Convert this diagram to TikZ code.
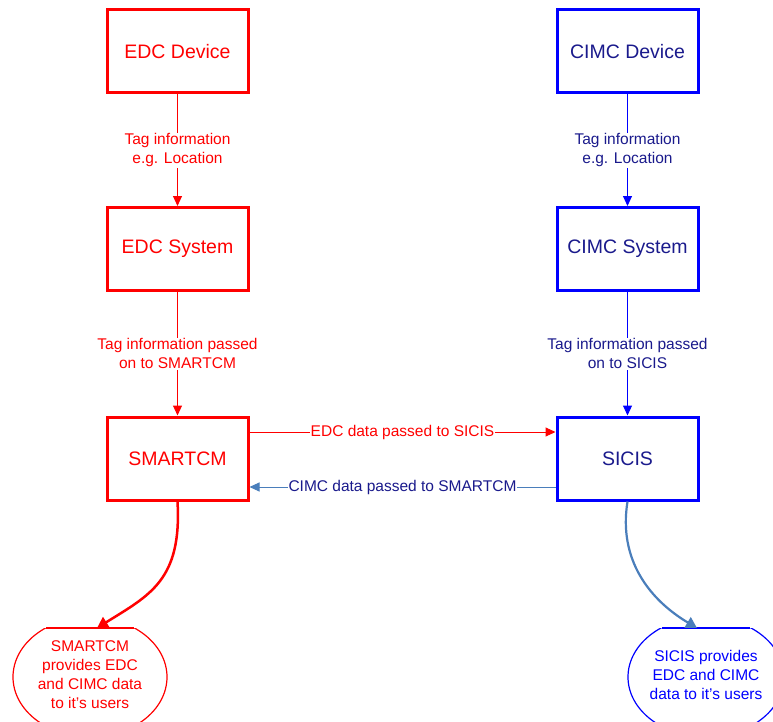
\documentclass[tikz,border=0pt]{standalone}
\usepackage{fontspec}
\setmainfont{Liberation Sans}
\usetikzlibrary{arrows.meta}
\definecolor{edcred}{HTML}{FF0000}
\definecolor{cimcblue}{HTML}{0000FF}
\definecolor{cimcnavy}{HTML}{1A1A8C}
\definecolor{steel}{HTML}{4A7EBB}
\tikzset{
  edcbox/.style={draw=edcred,line width=3pt,minimum width=141pt,minimum height=83pt,
    text=edcred,font=\fontsize{19.5}{23}\selectfont},
  cimcbox/.style={draw=cimcblue,line width=3pt,minimum width=141pt,minimum height=83pt,
    text=cimcnavy,font=\fontsize{19.5}{23}\selectfont},
  tag/.style={fill=white,align=center,inner sep=1pt,font=\fontsize{15.5}{19}\selectfont},
  flow/.style={line width=1pt,-{Triangle[length=10pt,width=9pt]}},
  bubbletext/.style={align=center,font=\fontsize{15.5}{19}\selectfont}
}
\begin{document}
\begin{tikzpicture}[x=1pt,y=-1pt]
  \useasboundingbox (0,0) rectangle (773,722);
  % left column
  \node[edcbox] (edcdev) at (177.5,51.5) {EDC Device};
  \node[edcbox] (edcsys) at (177.5,249) {EDC System};
  \node[edcbox] (smartcm) at (177.5,458.5) {SMARTCM};
  % right column
  \node[cimcbox] (cimcdev) at (627.5,51.5) {CIMC Device};
  \node[cimcbox] (cimcsys) at (627.5,249) {CIMC System};
  \node[cimcbox] (sicis) at (627.5,458.5) {SICIS};

  \draw[flow,edcred] (edcdev) -- node[tag,text=edcred] {Tag information\\e.g. Location} (edcsys);
  \draw[flow,edcred] (edcsys) -- node[tag,text=edcred] {Tag information passed\\on to SMARTCM} (smartcm);
  \draw[flow,cimcblue] (cimcdev) -- node[tag,text=cimcnavy] {Tag information\\e.g. Location} (cimcsys);
  \draw[flow,cimcblue] (cimcsys) -- node[tag,text=cimcnavy] {Tag information passed\\on to SICIS} (sicis);

  % exchange between the two systems
  \draw[flow,edcred] (smartcm.east |- 0,432) -- node[tag,text=edcred] {EDC data passed to SICIS} (sicis.west |- 0,432);
  \draw[flow,steel] (sicis.west |- 0,487) -- node[tag,text=cimcnavy] {CIMC data passed to SMARTCM} (smartcm.east |- 0,487);

  % user bubbles
  \begin{scope}
    \clip (0,628) rectangle (773,722);
    \draw[edcred,line width=1.2pt] (90,677) ellipse [x radius=77, y radius=60];
    \draw[cimcblue,line width=1.2pt] (706,677) ellipse [x radius=78, y radius=60];
  \end{scope}
  \draw[edcred,line width=1.2pt] (46,628) -- (134,628);
  \draw[cimcblue,line width=1.2pt] (662,628) -- (750,628);
  \node[bubbletext,text=edcred] (smartusers) at (90,675) {SMARTCM\\provides EDC\\and CIMC data\\to it’s users};
  \node[bubbletext,text=cimcblue] (sicisusers) at (706,675) {SICIS provides\\EDC and CIMC\\data to it’s users};
  \coordinate (smarttop) at (97,628);
  \coordinate (sicistop) at (697,628);

  \draw[edcred,line width=2.5pt,-{Triangle[length=11pt,width=12pt]}]
    (smartcm.south) .. controls (182,580) and (150,595) .. (smarttop);
  \draw[steel,line width=2.2pt,-{Triangle[length=11pt,width=12pt]}]
    (sicis.south) .. controls (618,560) and (650,600) .. (sicistop);
\end{tikzpicture}
\end{document}
